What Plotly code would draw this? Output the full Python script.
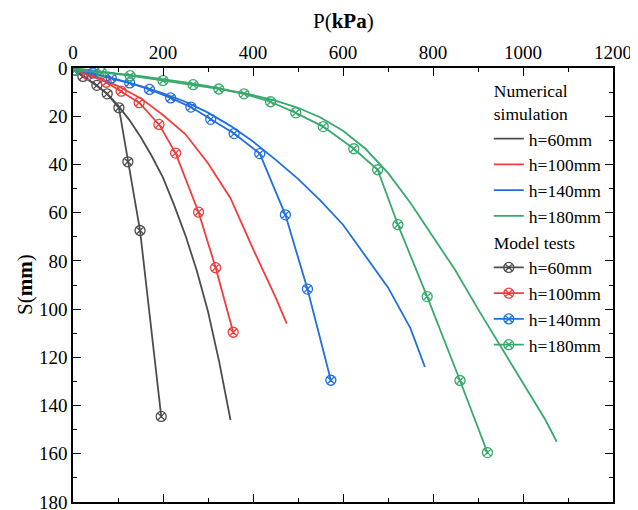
import plotly.graph_objects as go

# ---- Numerical simulation (lines) ----
sim60_p = [0, 25, 50, 75, 100, 125, 150, 175, 200, 225, 250, 275, 300, 325, 350]
sim60_s = [0, 3.5, 7, 10.5, 15.5, 21.5, 28.5, 36.5, 45.5, 57, 69.5, 84, 101, 122, 146]

sim100_p = [0, 50, 100, 150, 200, 250, 300, 350, 400, 450, 475]
sim100_s = [0, 3.5, 7.5, 12.5, 19.5, 27.5, 39.5, 54, 75, 95, 106]

sim140_p = [0, 50, 100, 150, 200, 250, 300, 350, 400, 450, 500, 550, 600, 650, 700, 750, 782]
sim140_s = [0, 2.5, 5, 7.5, 10.5, 14, 18.5, 24, 30.5, 38, 46, 55, 65, 78, 91, 108, 124]

sim180_p = [0, 50, 100, 150, 200, 250, 300, 350, 400, 450, 500, 550, 600, 650, 700, 750,
            800, 850, 900, 950, 1000, 1050, 1075]
sim180_s = [0, 1.3, 2.3, 3.4, 4.6, 6, 7.5, 9.3, 11.3, 13.5, 16.5, 20.5, 26, 33.5, 43.5, 56,
            70, 84, 100, 115.5, 131, 146, 155]

# ---- Model tests (markers + lines) ----
exp60_p = [3, 22, 53, 76, 102, 122, 149, 196]
exp60_s = [1, 3.5, 7.2, 10.7, 16.5, 38.9, 67.4, 144.5]

exp100_p = [3, 33, 74, 107, 147, 191, 228, 279, 317, 356]
exp100_s = [1, 2.8, 5.9, 9.6, 14.4, 23.4, 35.3, 59.8, 82.8, 109.6]

exp140_p = [3, 44, 85, 126, 170, 217, 262, 306, 358, 415, 472, 521, 573]
exp140_s = [1, 2.1, 4.1, 6.2, 8.9, 12.4, 16.2, 21.3, 27.2, 35.5, 60.9, 91.7, 129.5]

exp180_p = [3, 63, 127, 200, 267, 324, 380, 439, 495, 556, 624, 677, 722, 787, 860, 921]
exp180_s = [1, 1.8, 3.2, 5.2, 6.9, 8.7, 10.7, 14, 18.6, 24.3, 33.5, 42.2, 65, 94.8, 129.6, 159.5]

labels = ["h=60mm", "h=100mm", "h=140mm", "h=180mm"]
colors = ["#4d4d4d", "#f23c3c", "#1f6fe0", "#38a96b"]

x_ticks = [0, 200, 400, 600, 800, 1000, 1200]
y_ticks = [0, 20, 40, 60, 80, 100, 120, 140, 160, 180]

FONT = "Liberation Serif"

fig = go.Figure()

sims = [(sim60_p, sim60_s), (sim100_p, sim100_s), (sim140_p, sim140_s), (sim180_p, sim180_s)]
exps = [(exp60_p, exp60_s), (exp100_p, exp100_s), (exp140_p, exp140_s), (exp180_p, exp180_s)]

for i, (p, s) in enumerate(sims):
    fig.add_trace(go.Scatter(
        x=p, y=s, mode="lines", name=labels[i],
        line=dict(color=colors[i], width=1.8),
        legendgroup="sim",
        legendgrouptitle_text="Numerical<br>simulation" if i == 0 else None,
    ))

for i, (p, s) in enumerate(exps):
    fig.add_trace(go.Scatter(
        x=p, y=s, mode="lines+markers", name=labels[i],
        line=dict(color=colors[i], width=1.8),
        marker=dict(symbol="circle-x-open", size=10, color=colors[i], line=dict(width=1.3)),
        legendgroup="exp",
        legendgrouptitle_text="Model tests" if i == 0 else None,
    ))

# The page body has an 8px default margin, so the figure is sized/offset to compensate.
fig.update_layout(
    width=630, height=502,
    margin=dict(l=65, r=25, t=60, b=8),
    paper_bgcolor="white", plot_bgcolor="white",
    font=dict(family=FONT, size=18, color="black"),
    showlegend=True,
    legend=dict(
        x=0.77, y=0.99, xanchor="left", yanchor="top",
        bgcolor="rgba(0,0,0,0)",
        font=dict(family=FONT, size=17.5, color="black"),
        grouptitlefont=dict(family=FONT, size=17.5, color="black"),
        tracegroupgap=0,
        itemwidth=30,
    ),
    xaxis=dict(
        side="top", range=[0, 1200], tickvals=x_ticks,
        ticks="inside", ticklen=8, tickwidth=1.3, tickcolor="black",
        minor=dict(dtick=100, ticks="inside", ticklen=4, tickcolor="black", tickwidth=1.3),
        showline=True, linecolor="black", linewidth=1.6, mirror="allticks",
        showgrid=False, zeroline=False, automargin=False, ticklabeloverflow="allow",
        tickfont=dict(family=FONT, size=19, color="black"),
    ),
    yaxis=dict(
        range=[180, 0], tickvals=y_ticks,
        ticks="inside", ticklen=8, tickwidth=1.3, tickcolor="black",
        minor=dict(dtick=10, ticks="inside", ticklen=4, tickcolor="black", tickwidth=1.3),
        showline=True, linecolor="black", linewidth=1.6, mirror="allticks",
        showgrid=False, zeroline=False, automargin=False, ticklabeloverflow="allow",
        tickfont=dict(family=FONT, size=19, color="black"),
    ),
    annotations=[
        dict(text="P(<b>kPa</b>)", xref="paper", yref="paper", x=0.5, y=1.0, yshift=47,
             xanchor="center", yanchor="middle", showarrow=False,
             font=dict(family=FONT, size=21, color="black")),
        dict(text="S(<b>mm</b>)", xref="paper", yref="paper", x=0.0, y=0.5, xshift=-48,
             xanchor="center", yanchor="middle", showarrow=False, textangle=-90,
             font=dict(family=FONT, size=21, color="black")),
    ],
)

fig.write_html("out.html")
